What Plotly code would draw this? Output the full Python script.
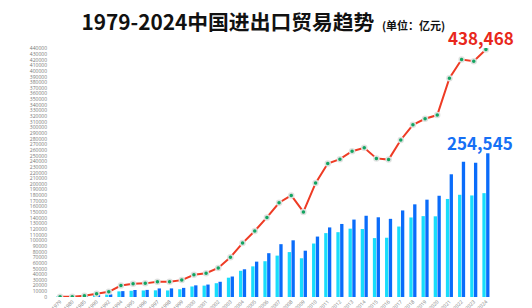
import plotly.graph_objects as go

years = ["1979", "1980", "1985", "1990", "1992", "1994", "1995", "1996", "1997", "1998",
         "1999", "2000", "2001", "2002", "2003", "2004", "2005", "2006", "2007", "2008",
         "2009", "2010", "2011", "2012", "2013", "2014", "2015", "2016", "2017", "2018",
         "2019", "2020", "2021", "2022", "2023", "2024"]

total = [454.6, 570.0, 2066.7, 5560.1, 9119.6, 20381.9, 23499.9, 24133.8, 26967.2, 26849.7,
         29896.2, 39273.2, 42183.6, 51378.2, 70483.5, 95539.1, 116921.8, 140974.0, 166924.1, 179921.5,
         150648.1, 201722.1, 236402.0, 244160.2, 258168.9, 264241.8, 245502.9, 243386.5, 278099.2, 305010.1,
         315627.3, 322215.2, 387392.6, 420678.0, 417568.0, 438468.0]

exports = [211.7, 271.2, 808.9, 2985.8, 4676.3, 10421.8, 12451.8, 12576.4, 15160.7, 15223.6,
           16159.8, 20634.4, 22024.4, 26947.9, 36287.9, 49103.3, 62648.1, 77597.2, 93563.6, 100394.9,
           82029.7, 107022.8, 123240.6, 129359.3, 137131.4, 143883.8, 141166.8, 138419.3, 153309.4, 164127.8,
           172373.6, 179326.4, 217348.0, 239654.0, 237726.0, 254545.0]

imports = [242.9, 298.8, 1257.8, 2574.3, 4443.3, 9960.1, 11048.1, 11557.4, 11806.5, 11626.1,
           13736.4, 18638.8, 20159.2, 24430.3, 34195.6, 46435.8, 54273.7, 63376.9, 73300.1, 79526.5,
           68618.4, 94699.3, 113161.4, 114801.0, 121037.5, 120358.0, 104336.1, 104967.2, 124789.8, 140880.3,
           143253.7, 142888.8, 173661.0, 181024.0, 179842.0, 183923.0]

y_ticks = list(range(0, 440001, 10000))

fig = go.Figure()
fig.add_trace(go.Bar(x=years, y=imports, name="进口", marker=dict(color="#18DDFB", line=dict(width=0))))
fig.add_trace(go.Bar(x=years, y=exports, name="出口", marker=dict(color="#0A6CFA", line=dict(width=0))))
fig.add_trace(go.Scatter(x=years, y=total, name="进出口总额", mode="lines+markers",
                         line=dict(color="#EE3B24", width=2),
                         marker=dict(color="#12A460", size=5, line=dict(color="rgba(225,225,225,0.95)", width=1.5))))

font_main = "Noto Sans CJK SC, Noto Sans, sans-serif"
last = len(years) - 1

fig.add_annotation(x=last, y=total[-1], xref="x", yref="y",
                   text="<b>{:,}</b>".format(int(total[-1])), showarrow=False,
                   yanchor="bottom", yshift=-3, xshift=-5,
                   font=dict(family=font_main, size=17, color="#E8271B"))
fig.add_annotation(x=last, y=exports[-1], xref="x", yref="y",
                   text="<b>{:,}</b>".format(int(exports[-1])), showarrow=False,
                   yanchor="bottom", yshift=-4, xshift=-6,
                   font=dict(family=font_main, size=17, color="#1670F5"))

fig.update_layout(
    width=532, height=308,
    margin=dict(l=54, r=40, t=48, b=11, autoexpand=False),
    paper_bgcolor="white", plot_bgcolor="white",
    showlegend=False,
    barmode="group", bargap=0.38, bargroupgap=0.12,
    title=dict(text="<b>1979-2024中国进出口贸易趋势</b><span style='font-size:11px'><b>&nbsp;&nbsp;&nbsp;(单位：亿元)</b></span>",
               x=0.153, xanchor="left", xref="container", y=0.925, yanchor="middle", yref="container",
               font=dict(family=font_main, size=20.8, color="#111111")),
    xaxis=dict(type="category", showgrid=False, zeroline=False, showline=False,
               tickangle=-45, tickfont=dict(size=5, color="#777777"), ticks="", automargin=False,
               range=[-0.5, 35.5]),
    yaxis=dict(range=[0, 441000], tickvals=y_ticks, tickformat="d", showgrid=False, zeroline=False,
               showline=False, tickfont=dict(size=5, color="#777777"), ticks="", automargin=False,
               ticklabelstandoff=6),
)

fig.write_html("out.html")
